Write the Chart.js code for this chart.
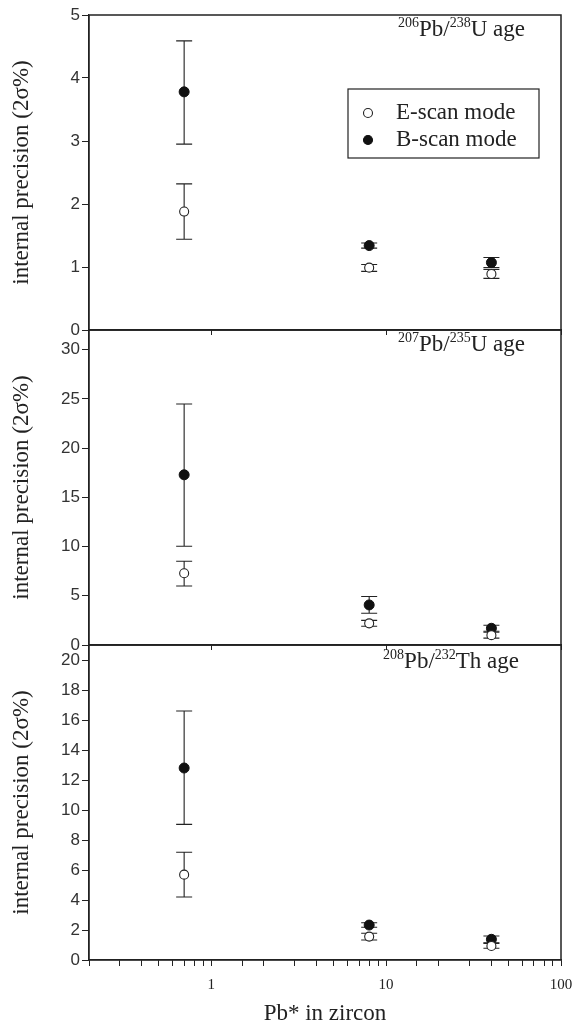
<!DOCTYPE html>
<html>
<head>
<meta charset="utf-8">
<script src="https://cdn.jsdelivr.net/npm/chart.js@4.4.0/dist/chart.umd.min.js"></script>
<style>
body { margin: 0; background: #fff; }
#wrap { position: relative; width: 572px; height: 1028px; overflow: hidden; }
canvas { position: absolute; left: 0; }
</style>
</head>
<body>
<div id="wrap">
<canvas id="stage1" width="572" height="345" style="top:0px"></canvas>
<canvas id="stage2" width="572" height="345" style="top:315px"></canvas>
<canvas id="stage3" width="572" height="398" style="top:630px"></canvas>
</div>
<script>
// Pb* content in zircon (x, log axis)
var pbContent = [0.7, 8, 40];
var seriesNames = ['E-scan mode', 'B-scan mode'];
var xTickLabels = [1, 10, 100];

// 206Pb/238U age
var u238E = [1.88, 0.99, 0.89];
var u238ELow = [1.44, 0.93, 0.82];
var u238EHigh = [2.32, 1.04, 0.96];
var u238B = [3.78, 1.34, 1.07];
var u238BLow = [2.95, 1.30, 0.99];
var u238BHigh = [4.59, 1.38, 1.15];

// 207Pb/235U age
var u235E = [7.29, 2.2, 1.0];
var u235ELow = [6.0, 1.9, 0.7];
var u235EHigh = [8.51, 2.5, 1.3];
var u235B = [17.29, 4.07, 1.7];
var u235BLow = [10.03, 3.22, 1.4];
var u235BHigh = [24.48, 4.92, 2.0];

// 208Pb/232Th age
var th232E = [5.69, 1.56, 0.93];
var th232ELow = [4.2, 1.33, 0.78];
var th232EHigh = [7.18, 1.78, 1.15];
var th232B = [12.8, 2.33, 1.38];
var th232BLow = [9.04, 2.18, 1.11];
var th232BHigh = [16.6, 2.48, 1.6];

// y axis ranges of the three panels
var yMax = [5, 32, 21];
var yStep = [1, 5, 2];

// panel labels: [mass, element/, mass, rest]
var panelLabels = [
  ['206', 'Pb/', '238', 'U age'],
  ['207', 'Pb/', '235', 'U age'],
  ['208', 'Pb/', '232', 'Th age']
];

var serif = 'Liberation Serif';
var sans = 'Liberation Sans';
var ink = '#222';

// error bars, frame, panel label and legend
const decoPlugin = {
  id: 'deco',
  beforeDatasetsDraw(chart, args, opts) {
    const ctx = chart.ctx;
    const xs = chart.scales.x, ys = chart.scales.y;
    ctx.save();
    ctx.strokeStyle = ink;
    ctx.lineWidth = 1.1;
    opts.bars.forEach(b => {
      b.low.forEach((lo, i) => {
        const px = xs.getPixelForValue(pbContent[i]);
        const y1 = ys.getPixelForValue(lo);
        const y2 = ys.getPixelForValue(b.high[i]);
        ctx.beginPath();
        ctx.moveTo(px, y1); ctx.lineTo(px, y2);
        ctx.moveTo(px - 8, y1); ctx.lineTo(px + 8, y1);
        ctx.moveTo(px - 8, y2); ctx.lineTo(px + 8, y2);
        ctx.stroke();
      });
    });
    ctx.restore();
  },
  afterDraw(chart, args, opts) {
    const ctx = chart.ctx;
    const a = chart.chartArea;
    ctx.save();
    ctx.strokeStyle = ink;
    ctx.lineWidth = 1.5;
    ctx.strokeRect(a.left, a.top, a.right - a.left, a.bottom - a.top);

    // panel label with superscripts
    const parts = opts.label;
    const big = '23px ' + serif, small = '14px ' + serif;
    let w = 0;
    parts.forEach((p, i) => { ctx.font = (i % 2 == 0) ? small : big; w += ctx.measureText(p).width; });
    let x = a.right - opts.labelRight - w;
    const base = a.top + opts.labelTop;
    ctx.fillStyle = ink;
    ctx.textBaseline = 'alphabetic';
    ctx.textAlign = 'left';
    parts.forEach((p, i) => {
      ctx.font = (i % 2 == 0) ? small : big;
      ctx.fillText(p, x, (i % 2 == 0) ? base - 9 : base);
      x += ctx.measureText(p).width;
    });

    // legend (only first panel)
    if (opts.legend) {
      const lx = a.right - 213, ly = a.top + 74;
      ctx.lineWidth = 1.2;
      ctx.strokeRect(lx, ly, 191, 69);
      chart.data.datasets.forEach((ds, i) => {
        const cy = ly + 24 + i * 27;
        ctx.beginPath();
        ctx.arc(lx + 20, cy, 4.5, 0, Math.PI * 2);
        ctx.fillStyle = ds.backgroundColor;
        ctx.fill();
        ctx.strokeStyle = ds.borderColor;
        ctx.lineWidth = 1.1;
        ctx.stroke();
        ctx.fillStyle = ink;
        ctx.font = '23px ' + serif;
        ctx.textBaseline = 'middle';
        ctx.fillText(ds.label, lx + 48, cy);
      });
    }
    ctx.restore();
  }
};

function isMajor(v) {
  return xTickLabels.some(t => Math.abs(t - v) < 1e-9);
}

function drawPanel(canv, idx, eVals, eLow, eHigh, bVals, bLow, bHigh) {
  var last = idx == 2;
  var chart = new Chart(canv, {
    type: 'scatter',
    data: {
      datasets: [
        {
          label: seriesNames[0],
          data: pbContent.map((x, i) => ({x: x, y: eVals[i]})),
          backgroundColor: '#fff',
          borderColor: ink,
          borderWidth: 1.1,
          pointRadius: 4.5,
          showLine: false
        },
        {
          label: seriesNames[1],
          data: pbContent.map((x, i) => ({x: x, y: bVals[i]})),
          backgroundColor: '#111',
          borderColor: '#111',
          borderWidth: 1,
          pointRadius: 5,
          showLine: false
        }
      ]
    },
    options: {
      responsive: false,
      animation: false,
      devicePixelRatio: 1,
      layout: { padding: { top: 15, bottom: last ? 0 : 15, left: 0, right: 11 } },
      plugins: {
        legend: { display: false },
        tooltip: { enabled: false },
        deco: {
          bars: [{low: eLow, high: eHigh}, {low: bLow, high: bHigh}],
          label: panelLabels[idx],
          labelRight: idx == 2 ? 42 : 36,
          labelTop: idx == 2 ? 23 : 21,
          legend: idx == 0
        }
      },
      scales: {
        x: {
          type: 'logarithmic',
          min: 0.2,
          max: 100,
          afterFit: s => { s.height = last ? 68 : 0; s.paddingLeft = 0; s.paddingRight = 0; },
          grid: {
            drawOnChartArea: false,
            tickLength: last ? 6 : 5,
            tickColor: c => (last || (c.tick && isMajor(c.tick.value))) ? ink : 'rgba(0,0,0,0)'
          },
          border: { color: ink, width: 1.2 },
          ticks: {
            display: last,
            autoSkip: false,
            maxRotation: 0,
            padding: 10,
            color: ink,
            font: { family: serif, size: 15 },
            callback: v => isMajor(v) ? String(Math.round(v)) : ''
          },
          title: {
            display: last,
            text: 'Pb* in zircon',
            color: ink,
            font: { family: serif, size: 23 },
            padding: { top: 0, bottom: 0 }
          }
        },
        y: {
          min: 0,
          max: yMax[idx],
          afterFit: s => { s.width = 89; },
          grid: { drawOnChartArea: false, tickLength: 7, tickColor: ink },
          border: { color: ink, width: 1.2 },
          ticks: {
            stepSize: yStep[idx],
            includeBounds: false,
            padding: 2,
            color: '#333',
            font: { family: sans, size: 17 }
          },
          title: {
            display: true,
            text: 'internal precision (2σ%)',
            color: ink,
            font: { family: serif, size: 23 },
            padding: { top: 8, bottom: 0 }
          }
        }
      }
    },
    plugins: [decoPlugin]
  });
  return chart;
}

var chart1 = drawPanel(document.getElementById('stage1'), 0, u238E, u238ELow, u238EHigh, u238B, u238BLow, u238BHigh);
var chart2 = drawPanel(document.getElementById('stage2'), 1, u235E, u235ELow, u235EHigh, u235B, u235BLow, u235BHigh);
var chart3 = drawPanel(document.getElementById('stage3'), 2, th232E, th232ELow, th232EHigh, th232B, th232BLow, th232BHigh);
</script>
</body>
</html>
